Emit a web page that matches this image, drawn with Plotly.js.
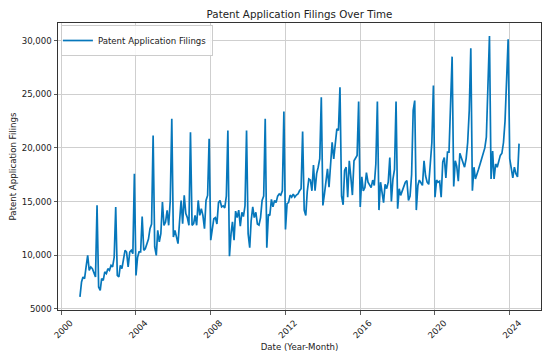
<!DOCTYPE html>
<html>
<head>
<meta charset="utf-8">
<script src="https://cdn.plot.ly/plotly-3.0.1.min.js"></script>
<style>html,body{margin:0;padding:0;background:#fff;}#chart{width:550px;height:357px;}</style>
</head>
<body>
<div id="chart"></div>
<script>
// Monthly patent application filings (Jan 2001 - Jul 2024)
const y2001 = [6100, 7500, 7960, 7800, 8900, 9980, 8580, 8900, 8740, 8280, 7960, 14640];
const y2002 = [7030, 6720, 7800, 7650, 8430, 8280, 8740, 8580, 9050, 8900, 9800, 14480];
const y2003 = [8120, 7960, 9050, 8740, 9670, 10450, 10290, 8900, 10290, 10450, 10140, 17590];
const y2004 = [8100, 9800, 10300, 10300, 13600, 10450, 10600, 11070, 11500, 12470, 12900, 21150];
const y2005 = [10760, 9980, 12310, 11230, 12000, 14950, 12780, 13090, 14170, 12780, 15100, 22710];
const y2006 = [11690, 12310, 11690, 11070, 13090, 15100, 12930, 15570, 13870, 13500, 12780, 21465];
const y2007 = [12780, 12930, 13710, 12780, 15100, 13710, 14330, 13710, 12470, 15100, 15570, 20846];
const y2008 = [11400, 12600, 13400, 13500, 12900, 14900, 15100, 14500, 14600, 14400, 15500, 21620];
const y2009 = [9900, 12000, 13100, 11400, 14100, 13500, 14200, 12700, 14000, 13600, 14600, 21620];
const y2010 = [12000, 10700, 13200, 14500, 13500, 14000, 12900, 12800, 13500, 15100, 15500, 22710];
const y2011 = [10700, 13800, 13700, 15200, 14500, 15100, 14900, 15500, 15700, 15600, 16000, 23390];
const y2012 = [12400, 14800, 14900, 15600, 15400, 15700, 15400, 15600, 15700, 16000, 16200, 21530];
const y2013 = [14200, 13700, 15900, 17100, 17000, 16000, 18400, 16000, 17600, 18200, 19000, 24720];
const y2014 = [14640, 15720, 16650, 18050, 16340, 19140, 20530, 18980, 20690, 21780, 21620, 25650];
const y2015 = [15500, 14700, 17900, 18200, 15400, 18800, 17300, 15600, 18800, 19100, 19300, 24320];
const y2016 = [14500, 17300, 16000, 16300, 17700, 16800, 16600, 16300, 17000, 16500, 18500, 24320];
const y2017 = [14200, 16800, 15900, 14900, 16600, 16200, 16800, 19100, 15000, 17100, 18000, 24320];
const y2018 = [14330, 16190, 15570, 16030, 16500, 16810, 16960, 15100, 15500, 17500, 23500, 24410];
const y2019 = [14200, 16500, 17000, 16800, 16500, 18800, 17400, 16800, 16600, 18500, 20500, 25810];
const y2020 = [15400, 17000, 16800, 16900, 15400, 18700, 19100, 17200, 19600, 19600, 23500, 28510];
const y2021 = [16400, 18800, 18300, 16900, 19500, 19100, 18600, 18200, 19000, 20500, 23500, 29280];
const y2022 = [16000, 18200, 17100, 17500, 18000, 18500, 19000, 19500, 20000, 21000, 25000, 30430];
const y2023 = [17100, 19700, 17100, 18500, 18200, 18800, 19300, 19500, 20500, 22500, 26000, 30120];
const y2024 = [19000, 18100, 17200, 18200, 17600, 17300, 20400];

const years = [2001, 2002, 2003, 2004, 2005, 2006, 2007, 2008, 2009, 2010, 2011, 2012,
               2013, 2014, 2015, 2016, 2017, 2018, 2019, 2020, 2021, 2022, 2023, 2024];
const yearValues = [y2001, y2002, y2003, y2004, y2005, y2006, y2007, y2008, y2009, y2010, y2011, y2012,
                    y2013, y2014, y2015, y2016, y2017, y2018, y2019, y2020, y2021, y2022, y2023, y2024];

const xTickVals = ['2000-01-01', '2004-01-01', '2008-01-01', '2012-01-01', '2016-01-01', '2020-01-01', '2024-01-01'];
const xTickText = ['2000', '2004', '2008', '2012', '2016', '2020', '2024'];
const yTickVals = [5000, 10000, 15000, 20000, 25000, 30000];
const yTickText = ['5000', '10,000', '15,000', '20,000', '25,000', '30,000'];

const seriesName = 'Patent Application Filings';
const chartTitle = 'Patent Application Filings Over Time';
const xTitle = 'Date (Year-Month)';
const yTitle = 'Patent Application Filings';

// Build monthly dates and values
const dates = [];
const values = [];
years.forEach((yr, i) => {
  yearValues[i].forEach((v, m) => {
    dates.push(yr + '-' + String(m + 1).padStart(2, '0') + '-01');
    values.push(v);
  });
});

// matplotlib-like 5% autoscale margins
const tMin = new Date(dates[0]).getTime();
const tMax = new Date(dates[dates.length - 1]).getTime();
const tPad = (tMax - tMin) * 0.05;
const vMin = Math.min(...values), vMax = Math.max(...values);
const vPad = (vMax - vMin) * 0.05;

const FONT = 'DejaVu Sans, sans-serif';
const TXT = '#222';

const trace = {
  type: 'scatter', mode: 'lines', name: seriesName,
  x: dates, y: values,
  line: { color: '#0677bb', width: 1.7 }
};

const axisCommon = {
  showgrid: true, gridcolor: '#cfcfcf', gridwidth: 1,
  zeroline: false, showline: true, mirror: true, linecolor: '#333', linewidth: 1,
  ticks: 'outside', ticklen: 3.5, tickwidth: 0.8, tickcolor: '#333',
  tickfont: { family: FONT, size: 8.6, color: TXT }
};

const layout = {
  width: 550, height: 357,
  margin: { l: 58, r: 9, t: 23, b: 47 },
  paper_bgcolor: '#fff', plot_bgcolor: '#fff',
  font: { family: FONT, size: 8.6, color: TXT },
  title: { text: chartTitle, font: { family: FONT, size: 10.3, color: TXT },
           x: 0.5, xref: 'paper', y: 1 - 14.5 / 357, yref: 'container', yanchor: 'middle' },
  xaxis: Object.assign({}, axisCommon, {
    type: 'date',
    range: [new Date(tMin - tPad).toISOString(), new Date(tMax + tPad).toISOString()],
    tickmode: 'array', tickvals: xTickVals, ticktext: xTickText,
    tickangle: -45, ticklabelshift: 9,
    title: { text: xTitle, font: { family: FONT, size: 8.6, color: TXT }, standoff: 4 }
  }),
  yaxis: Object.assign({}, axisCommon, {
    range: [vMin - vPad, vMax + vPad],
    tickmode: 'array', tickvals: yTickVals, ticktext: yTickText,
    title: { text: yTitle, font: { family: FONT, size: 8.6, color: TXT }, standoff: 3 }
  }),
  showlegend: true,
  legend: {
    x: 0.006, y: 0.993, xanchor: 'left', yanchor: 'top',
    bgcolor: 'rgba(255,255,255,0.85)', bordercolor: '#cccccc', borderwidth: 1,
    font: { family: FONT, size: 8.6, color: TXT }, itemwidth: 30, indentation: -4
  }
};

Plotly.newPlot('chart', [trace], layout, { displayModeBar: false, staticPlot: true });
</script>
</body>
</html>
